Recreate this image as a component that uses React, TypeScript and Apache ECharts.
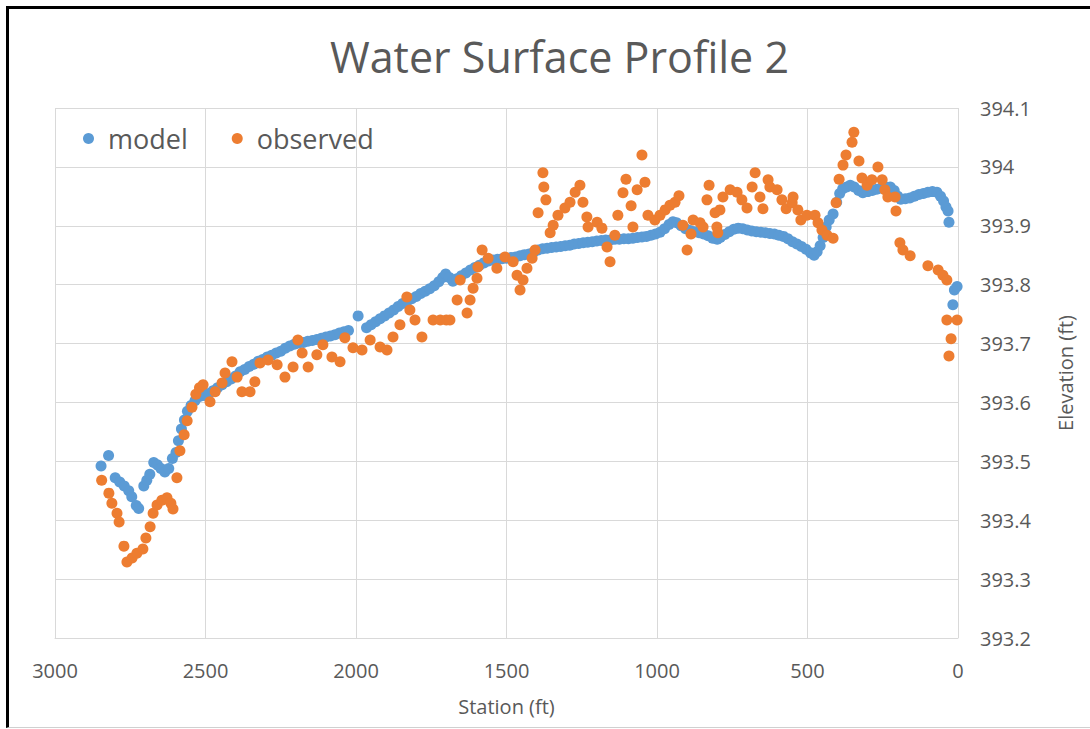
import React, { useEffect, useRef } from "react";
import * as echarts from "echarts";

const titleText = "Water Surface Profile 2";
const xAxisName = "Station (ft)";
const yAxisName = "Elevation (ft)";
const seriesNames = ["model", "observed"];

const modelStation = [
  2847, 2822, 2800, 2785, 2770, 2755, 2745, 2730, 2722, 2705, 2695, 2685, 2672, 2660, 2648, 2635, 2622, 2610, 2598, 2590,
  2580, 2570, 2560, 2548, 2535, 2520, 2505, 2490, 2475, 2460, 2445, 2430, 2415, 2400, 2385, 2370, 2355, 2340, 2325, 2310,
  2295, 2280, 2265, 2250, 2235, 2220, 2205, 2190, 2175, 2160, 2145, 2130, 2115, 2100, 2085, 2070, 2055, 2040, 2025, 1993,
  1965, 1950, 1935, 1920, 1905, 1890, 1875, 1860, 1845, 1830, 1815, 1800, 1785, 1770, 1755, 1740, 1725, 1712, 1702, 1690,
  1678, 1665, 1650, 1635, 1620, 1605, 1590, 1575, 1560, 1545, 1530, 1515, 1500, 1485, 1470, 1455, 1440, 1425, 1410, 1395,
  1380, 1365, 1350, 1335, 1320, 1305, 1290, 1275, 1260, 1245, 1230, 1215, 1200, 1185, 1170, 1155, 1140, 1125, 1110, 1095,
  1080, 1065, 1050, 1035, 1020, 1005, 990, 975, 960, 947, 935, 920, 905, 890, 875, 860, 845, 830, 815, 800,
  790, 775, 760, 745, 730, 715, 700, 685, 670, 655, 640, 625, 610, 595, 580, 565, 550, 535, 520, 505,
  490, 478, 468, 458, 448, 438, 428, 415, 403, 393, 383, 370, 358, 345, 330, 316, 300, 285, 270, 255,
  240, 225, 212, 200, 190, 175, 160, 145, 130, 115, 100, 85, 70, 58, 48, 40, 33, 30, 17, 12, 3,
];
const modelElevation = [
  393.492, 393.51, 393.472, 393.465, 393.458, 393.45, 393.44, 393.425, 393.42, 393.458, 393.468, 393.478, 393.498, 393.494, 393.488, 393.482, 393.488, 393.505, 393.515, 393.535,
  393.555, 393.57, 393.585, 393.595, 393.603, 393.61, 393.612, 393.615, 393.62, 393.625, 393.63, 393.635, 393.64, 393.645, 393.652, 393.656, 393.661, 393.665, 393.67, 393.673,
  393.677, 393.68, 393.684, 393.687, 393.692, 393.696, 393.699, 393.701, 393.702, 393.704, 393.705, 393.707, 393.709, 393.711, 393.713, 393.715, 393.718, 393.72, 393.722, 393.747,
  393.727, 393.732, 393.737, 393.742, 393.747, 393.752, 393.757, 393.763, 393.768, 393.772, 393.776, 393.78, 393.785, 393.789, 393.793, 393.798, 393.805, 393.812, 393.818, 393.812,
  393.806, 393.81, 393.815, 393.82, 393.825, 393.829, 393.833, 393.837, 393.84, 393.842, 393.843, 393.844, 393.845, 393.846, 393.847, 393.849, 393.851, 393.852, 393.855, 393.859,
  393.861, 393.862, 393.863, 393.864, 393.865, 393.866, 393.867, 393.869, 393.87, 393.871, 393.872, 393.873, 393.874, 393.875, 393.876, 393.876, 393.877, 393.877, 393.878, 393.878,
  393.879, 393.88, 393.881, 393.882, 393.884, 393.886, 393.889, 393.895, 393.902, 393.907, 393.905, 393.9, 393.895, 393.892, 393.89, 393.888, 393.886, 393.883, 393.879, 393.877,
  393.88, 393.885, 393.89, 393.894, 393.896, 393.895, 393.893, 393.891, 393.89, 393.889, 393.888, 393.887, 393.886, 393.884, 393.882, 393.878, 393.873, 393.869, 393.865, 393.86,
  393.854, 393.85, 393.856, 393.866, 393.88, 393.898, 393.91, 393.92, 393.94, 393.955, 393.963, 393.966, 393.969, 393.966, 393.96, 393.956, 393.958, 393.96, 393.962, 393.964,
  393.966, 393.966, 393.96, 393.95, 393.945, 393.946, 393.947, 393.95, 393.953, 393.955, 393.957, 393.958, 393.957, 393.95, 393.942, 393.932, 393.925, 393.906, 393.766, 393.791, 393.797,
];

const observedStation = [
  2845, 2821, 2811, 2794, 2787, 2771, 2761, 2744, 2728, 2708, 2698, 2684, 2674, 2661, 2645, 2628, 2615, 2608, 2595, 2585,
  2571, 2561, 2545, 2532, 2520, 2508, 2485, 2468, 2445, 2435, 2412, 2395, 2379, 2352, 2336, 2319, 2292, 2262, 2236, 2209,
  2193, 2179, 2159, 2130, 2110, 2080, 2053, 2037, 2010, 1980, 1953, 1920, 1897, 1877, 1854, 1831, 1821, 1804, 1781, 1744,
  1720, 1700, 1688, 1664, 1654, 1631, 1621, 1611, 1598, 1595, 1581, 1561, 1532, 1505, 1478, 1465, 1455, 1445, 1432, 1415,
  1405, 1395, 1379, 1376, 1369, 1355, 1345, 1329, 1306, 1289, 1272, 1256, 1246, 1233, 1229, 1199, 1183, 1166, 1156, 1140,
  1130, 1113, 1103, 1086, 1080, 1066, 1050, 1040, 1030, 1007, 990, 973, 957, 940, 927, 914, 900, 887, 880, 857,
  847, 834, 827, 807, 801, 798, 791, 781, 757, 734, 718, 701, 684, 674, 658, 648, 631, 625, 601, 585,
  571, 551, 548, 532, 522, 502, 475, 465, 452, 435, 415, 405, 395, 382, 372, 352, 346, 329, 319, 302,
  286, 266, 252, 243, 233, 209, 206, 193, 183, 159, 100, 66, 50, 37, 37, 3, 23, 30,
];
const observedElevation = [
  393.468, 393.446, 393.429, 393.412, 393.397, 393.356, 393.329, 393.336, 393.344, 393.351, 393.37, 393.389, 393.412, 393.426, 393.434, 393.438, 393.429, 393.419, 393.472, 393.518,
  393.545, 393.569, 393.592, 393.614, 393.625, 393.63, 393.601, 393.618, 393.633, 393.65, 393.669, 393.643, 393.618, 393.618, 393.635, 393.667, 393.672, 393.664, 393.643, 393.66,
  393.706, 393.684, 393.66, 393.681, 393.698, 393.677, 393.669, 393.71, 393.693, 393.689, 393.706, 393.694, 393.689, 393.711, 393.732, 393.779, 393.757, 393.74, 393.711, 393.74,
  393.74, 393.74, 393.74, 393.774, 393.808, 393.752, 393.774, 393.794, 393.811, 393.83, 393.859, 393.845, 393.828, 393.847, 393.839, 393.816, 393.791, 393.808, 393.828, 393.845,
  393.859, 393.922, 393.99, 393.966, 393.944, 393.888, 393.901, 393.918, 393.93, 393.94, 393.957, 393.969, 393.94, 393.915, 393.898, 393.906, 393.896, 393.864, 393.839, 393.884,
  393.918, 393.956, 393.979, 393.934, 393.898, 393.961, 394.02, 393.974, 393.918, 393.91, 393.918, 393.927, 393.935, 393.94, 393.951, 393.901, 393.859, 393.886, 393.91, 393.905,
  393.898, 393.944, 393.969, 393.922, 393.898, 393.888, 393.927, 393.949, 393.961, 393.957, 393.944, 393.93, 393.966, 393.99, 393.949, 393.929, 393.978, 393.966, 393.961, 393.944,
  393.929, 393.939, 393.949, 393.927, 393.91, 393.918, 393.918, 393.905, 393.893, 393.884, 393.879, 393.939, 393.979, 394.003, 394.02, 394.042, 394.059, 394.01, 393.981, 393.969,
  393.978, 394.0, 393.978, 393.961, 393.949, 393.949, 393.925, 393.871, 393.859, 393.849, 393.832, 393.825, 393.816, 393.808, 393.74, 393.74, 393.708, 393.679,
];

const xTicks = { min: 0, max: 3000, interval: 500 };
const yTicks = { min: 393.2, max: 394.1, interval: 0.1 };

const TEXT = "#595959";
const GRID = "#d9d9d9";
const FONT = "'Open Sans', 'Noto Sans', sans-serif";

export default function App() {
  const ref = useRef<HTMLDivElement>(null);
  useEffect(() => {
    if (!ref.current) return;
    const chart = echarts.init(ref.current, null, { renderer: "svg" });
    const modelData = modelStation.map((x, i) => [x, modelElevation[i]]);
    const observedData = observedStation.map((x, i) => [x, observedElevation[i]]);
    chart.setOption({
      animation: false,
      backgroundColor: "#fff",
      textStyle: { fontFamily: FONT },
      title: {
        text: titleText,
        left: 325,
        top: 30,
        textStyle: { fontFamily: FONT, fontSize: 43, fontWeight: "normal", color: TEXT },
      },
      legend: {
        left: 78,
        top: 120,
        icon: "circle",
        itemWidth: 11,
        itemHeight: 11,
        itemGap: 44,
        data: seriesNames,
        textStyle: { fontFamily: FONT, fontSize: 27, color: TEXT, padding: [0, 0, 0, 9] },
      },
      grid: { left: 55, right: 132, top: 108, bottom: 91 },
      xAxis: {
        type: "value",
        inverse: true,
        min: xTicks.min,
        max: xTicks.max,
        interval: xTicks.interval,
        name: xAxisName,
        nameLocation: "middle",
        nameGap: 58,
        nameTextStyle: { fontFamily: FONT, fontSize: 20, color: TEXT },
        axisLine: { show: true, lineStyle: { color: GRID, width: 1 } },
        axisTick: { show: false },
        axisLabel: {
          fontFamily: FONT,
          fontSize: 20,
          color: TEXT,
          margin: 22,
          formatter: (v: number) => String(v),
        },
        splitLine: { show: true, lineStyle: { color: GRID, width: 1 } },
      },
      yAxis: {
        type: "value",
        position: "right",
        min: yTicks.min,
        max: yTicks.max,
        interval: yTicks.interval,
        name: yAxisName,
        nameLocation: "middle",
        nameRotate: 90,
        nameGap: 97,
        nameTextStyle: { fontFamily: FONT, fontSize: 20, color: TEXT },
        axisLine: { show: false },
        axisTick: { show: false },
        axisLabel: {
          fontFamily: FONT,
          fontSize: 20,
          color: TEXT,
          margin: 22,
          formatter: (v: number) => String(Number(v.toFixed(1))),
        },
        splitLine: { show: true, lineStyle: { color: GRID, width: 1 } },
      },
      series: [
        {
          name: seriesNames[0],
          type: "scatter",
          symbol: "circle",
          symbolSize: 11,
          itemStyle: { color: "#5B9BD5", opacity: 1 },
          data: modelData,
        },
        {
          name: seriesNames[1],
          type: "scatter",
          symbol: "circle",
          symbolSize: 11,
          itemStyle: { color: "#ED7D31", opacity: 1 },
          data: observedData,
        },
      ],
    });
    return () => chart.dispose();
  }, []);
  return (
    <div style={{ position: "fixed", left: 0, top: 0, width: 1090, height: 729, background: "#fff" }}>
      <div ref={ref} style={{ position: "absolute", left: 0, top: 0, width: 1090, height: 729 }} />
      <div
        style={{
          position: "absolute",
          left: 6,
          top: 6,
          right: 0,
          bottom: 1,
          borderTop: "3px solid #000",
          borderLeft: "3px solid #000",
          borderBottom: "1px solid #d0d0d0",
          pointerEvents: "none",
        }}
      />
    </div>
  );
}
